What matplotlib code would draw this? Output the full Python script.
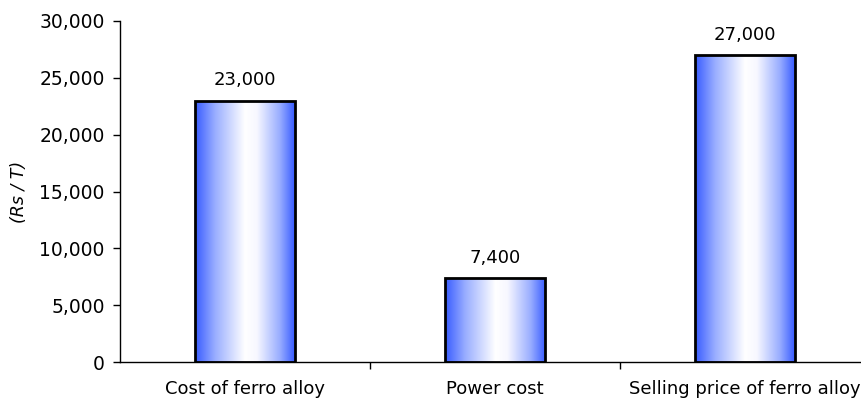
import numpy as np
import matplotlib
matplotlib.use("Agg")
import matplotlib.pyplot as plt
from matplotlib.ticker import FuncFormatter, FixedLocator
from matplotlib.colors import LinearSegmentedColormap

categories = ["Cost of ferro alloy", "Power cost", "Selling price of ferro alloy"]
values = [23000, 7400, 27000]
y_ticks = [0, 5000, 10000, 15000, 20000, 25000, 30000]

plt.rcParams['font.family'] = ['DejaVu Sans']

fig = plt.figure(figsize=(8.61, 4.0), dpi=100)
ax = fig.add_axes([120 / 861, 38 / 400, 750 / 861, 341 / 400])

x = np.arange(len(categories))
bar_w = 0.4
bars = ax.bar(x, values, width=bar_w, facecolor="none", edgecolor="black",
              linewidth=2, zorder=3)

# horizontal blue-white-blue shading inside each bar
blue = (0.22, 0.36, 1.0)
cmap = LinearSegmentedColormap.from_list(
    "shade", [(0.0, blue), (0.2, (0.60, 0.68, 1.0)), (0.5, (1, 1, 1)),
              (0.62, (0.97, 0.97, 1.0)), (0.85, (0.60, 0.68, 1.0)), (1.0, blue)])
grad = np.linspace(0, 1, 256).reshape(1, -1)
for b in bars:
    x0, w, h = b.get_x(), b.get_width(), b.get_height()
    im = ax.imshow(grad, cmap=cmap, aspect="auto", extent=[x0, x0 + w, 0, h],
                   zorder=2, interpolation="bilinear")
    im.set_clip_path(b)

for xi, v in zip(x, values):
    ax.annotate(f"{v:,}", (xi, v), xytext=(0, 8), textcoords="offset points",
                ha="center", va="bottom", fontsize=13)

ax.set_xlim(-0.5, 2.5)
ax.set_ylim(0, 30000)
ax.set_yticks(y_ticks)
ax.yaxis.set_major_formatter(FuncFormatter(lambda v, p: f"{int(v):,}"))
ax.tick_params(axis="y", direction="out", length=5, width=1, labelsize=13.5, pad=6)

ax.set_xticks(x)
ax.set_xticklabels(categories, fontsize=13)
ax.tick_params(axis="x", which="major", length=0, pad=13)
ax.xaxis.set_minor_locator(FixedLocator([0.5, 1.5, 2.5]))
ax.tick_params(axis="x", which="minor", direction="out", length=5, width=1)

for s in ("top", "right"):
    ax.spines[s].set_visible(False)
for s in ("left", "bottom"):
    ax.spines[s].set_linewidth(1)

ax.set_ylabel("(Rs / T)", fontsize=12.5, fontstyle="italic", labelpad=8)

fig.savefig("out.png", dpi=100)
